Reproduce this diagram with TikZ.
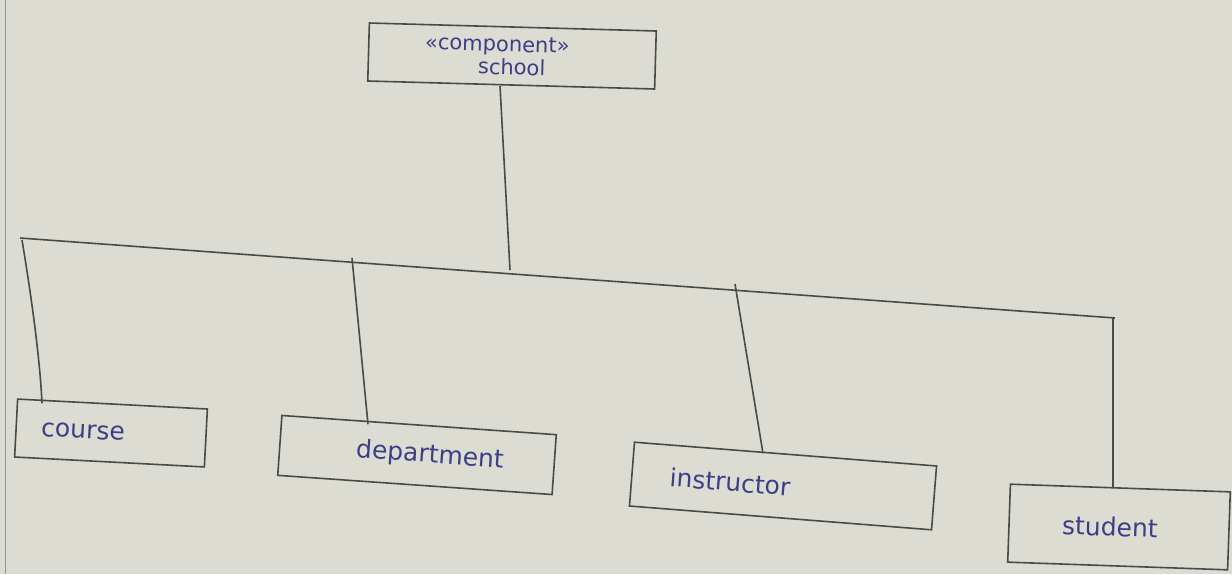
\documentclass[tikz,border=0pt]{standalone}
\usepackage{fontspec}
\setmainfont{DejaVu Sans}
\begin{document}
\begin{tikzpicture}[x=1pt,y=-1pt,
  ink/.style={draw=inkgray, line width=1.6pt},
  box/.style={ink, rectangle, inner sep=0pt, text=inkblue, font=\fontsize{25}{27}\selectfont},
  wire/.style={ink}]
\definecolor{paper}{HTML}{DCDCD3}
\definecolor{inkgray}{HTML}{4A4A4C}
\definecolor{inkblue}{HTML}{3D3F86}
\fill[paper] (0,0) rectangle (1232,574);
\useasboundingbox (0,0) rectangle (1232,574);
\draw[inkgray!60, line width=1pt] (5,0) -- (5,574);
% top component
\node[box, minimum width=287pt, minimum height=58pt, rotate=-1.6, align=center,
  font=\fontsize{21}{23}\selectfont] (school) at (512,56) {\hspace*{-30pt}«component»\\school};
% bus
\coordinate (busL) at (20,238);
\coordinate (busR) at (1115,318);
\coordinate (j0) at (510,270);
\coordinate (j1) at (22,240);
\coordinate (j2) at (352,258);
\coordinate (j3) at (735,284);
\coordinate (j4) at (1113,318);
\draw[wire] (busL) -- (busR);
\coordinate (s0) at (school.south -| 500,0);
\draw[wire] (s0) -- (j0);
% children
\node[box, minimum width=190pt, minimum height=58pt, rotate=-3] (course) at (111,433) {\hspace*{-56pt}course};
\node[box, minimum width=275pt, minimum height=60pt, rotate=-4] (department) at (417,455) {\hspace*{26pt}\raisebox{-10pt}{department}};
\node[box, minimum width=303pt, minimum height=64pt, rotate=-4.5] (instructor) at (783,486) {\hspace*{-106pt}instructor};
\node[box, minimum width=220pt, minimum height=78pt, rotate=-2] (student) at (1119,527) {\hspace*{-18pt}student};
\draw[wire] (j1) .. controls (32,300) and (40,360) .. (course.north -| 42,0);
\draw[wire] (j2) -- (department.north -| 368,0);
\draw[wire] (j3) -- (instructor.north -| 763,0);
\draw[wire] (j4) -- (student.north -| 1113,0);
\end{tikzpicture}
\end{document}
